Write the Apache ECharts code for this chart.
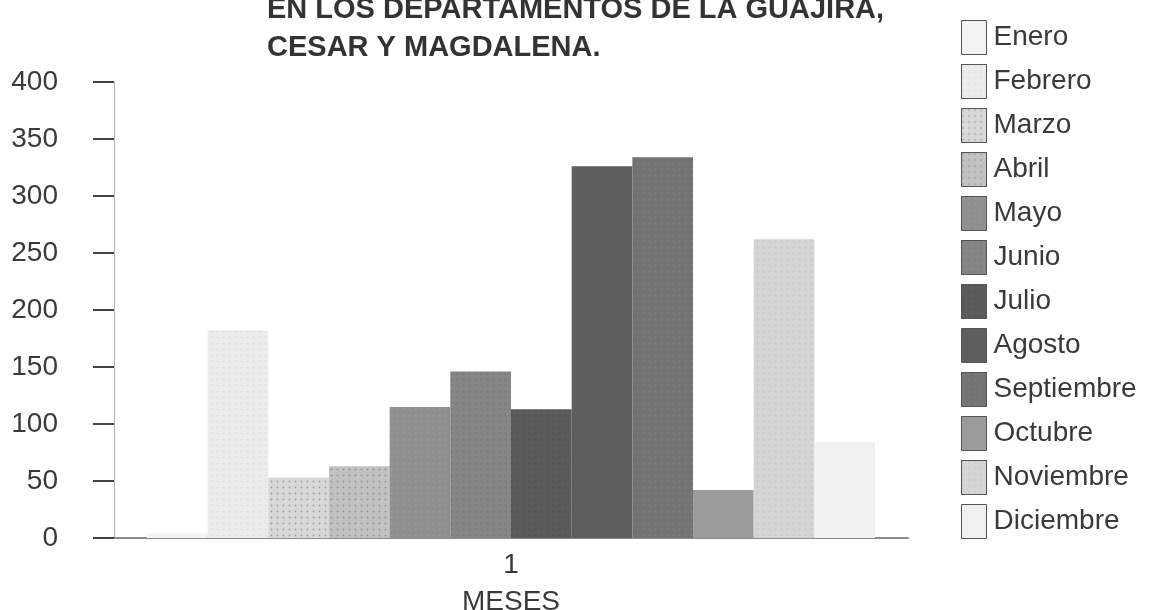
<!DOCTYPE html>
<html>
<head>
<meta charset="utf-8">
<script src="https://cdn.jsdelivr.net/npm/echarts@6/dist/echarts.min.js"></script>
<style>
  html, body { margin: 0; padding: 0; background: #ffffff; }
  #chart { width: 1150px; height: 610px; }
</style>
</head>
<body>
<div id="chart"></div>
<script>
// Monthly totals, one bar per month within the single category
const categories = ['1'];
const months = ['Enero', 'Febrero', 'Marzo', 'Abril', 'Mayo', 'Junio',
                'Julio', 'Agosto', 'Septiembre', 'Octubre', 'Noviembre', 'Diciembre'];
const values = [4, 182, 53, 63, 115, 146, 113, 326, 334, 42, 262, 84];
const yTicks = [0, 50, 100, 150, 200, 250, 300, 350, 400];

// Grey shades per month, with a dot texture for the speckled fills
const fills = ['#f3f3f3', '#ececec', '#d8d8d8', '#c2c2c2', '#8f8f8f', '#868686',
               '#5b5b5b', '#5e5e5e', '#737373', '#9b9b9b', '#d5d5d5', '#f0f0f0'];
const dotColors = [null, 'rgba(0,0,0,0.07)', 'rgba(0,0,0,0.28)', 'rgba(0,0,0,0.25)',
                   'rgba(255,255,255,0.12)', 'rgba(0,0,0,0.10)', 'rgba(0,0,0,0.10)',
                   null, 'rgba(255,255,255,0.10)', null, 'rgba(0,0,0,0.08)', null];

const series = months.map((m, i) => {
  const style = { color: fills[i] };
  if (dotColors[i]) {
    style.decal = {
      symbol: 'rect',
      symbolSize: 0.55,
      color: dotColors[i],
      dashArrayX: [3, 3],
      dashArrayY: [3, 3],
      rotation: 0
    };
  }
  return {
    name: m,
    type: 'bar',
    data: [values[i]],
    barGap: '0%',
    barCategoryGap: '8.3%',
    itemStyle: style
  };
});

const chart = echarts.init(document.getElementById('chart'), null, { renderer: 'canvas' });
chart.setOption({
  backgroundColor: '#ffffff',
  animation: false,
  title: {
    text: 'EN LOS DEPARTAMENTOS DE LA GUAJIRA,\nCESAR Y MAGDALENA.',
    left: 267,
    top: -9,
    padding: 0,
    textStyle: {
      fontFamily: 'Liberation Sans, Arial, sans-serif',
      fontWeight: 'bold',
      fontSize: 29,
      lineHeight: 38,
      color: '#333333'
    }
  },
  legend: {
    orient: 'vertical',
    left: 956,
    top: 15,
    itemWidth: 25,
    itemHeight: 34,
    itemGap: 9,
    icon: 'rect',
    itemStyle: { borderColor: '#555', borderWidth: 1 },
    textStyle: {
      fontFamily: 'Liberation Sans, Arial, sans-serif',
      fontSize: 28,
      lineHeight: 34,
      color: '#3a3a3a',
      padding: [0, 0, 0, 2]
    },
    data: months
  },
  grid: {
    left: 114, right: 242, top: 82, bottom: 72,
    containLabel: false,
    outerBoundsMode: 'none'
  },
  xAxis: {
    type: 'category',
    data: categories,
    name: 'MESES',
    nameLocation: 'middle',
    nameGap: 50,
    nameTextStyle: {
      fontFamily: 'Liberation Sans, Arial, sans-serif',
      fontSize: 28,
      color: '#3a3a3a'
    },
    axisLine: { lineStyle: { color: '#8a8a8a', width: 2 } },
    axisTick: { show: false },
    axisLabel: {
      margin: 13,
      fontFamily: 'Liberation Sans, Arial, sans-serif',
      fontSize: 28,
      color: '#3a3a3a'
    }
  },
  yAxis: {
    type: 'value',
    min: yTicks[0],
    max: yTicks[yTicks.length - 1],
    interval: yTicks[1] - yTicks[0],
    axisLine: { show: true, lineStyle: { color: '#b5b5b5', width: 1 } },
    axisTick: { show: true, inside: false, length: 21, lineStyle: { color: '#444', width: 2 } },
    splitLine: { show: false },
    axisLabel: {
      margin: 56,
      fontFamily: 'Liberation Sans, Arial, sans-serif',
      fontSize: 28,
      color: '#3a3a3a'
    }
  },
  series: series
});
</script>
</body>
</html>
